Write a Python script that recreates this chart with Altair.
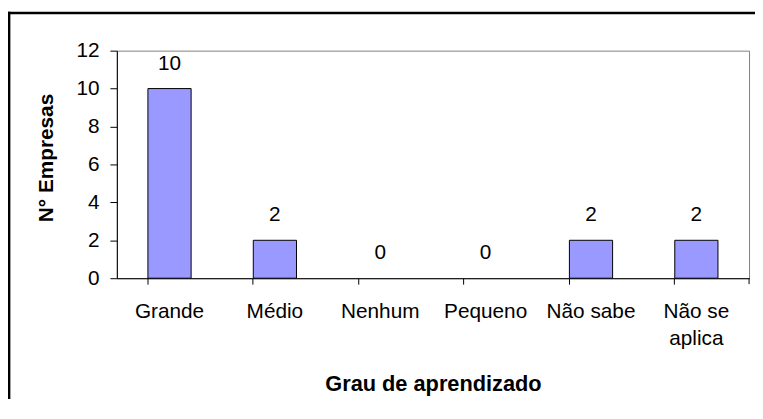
import altair as alt
import pandas as pd

# Data
categorias = ["Grande", "Médio", "Nenhum", "Pequeno", "Não sabe", "Não se aplica"]
empresas = [10, 2, 0, 0, 2, 2]
y_ticks = [0, 2, 4, 6, 8, 10, 12]

df = pd.DataFrame({"Grau": categorias, "N": empresas})

FONT = "Liberation Sans"

x_enc = alt.X(
    "Grau:N",
    sort=categorias,
    scale=alt.Scale(paddingInner=0.59, paddingOuter=0.295),
    axis=alt.Axis(
        title="Grau de aprendizado",
        titleFontSize=22,
        titleFontWeight="bold",
        titleFont=FONT,
        titleColor="black",
        titleBaseline="alphabetic",
        titleY=113,
        labelAngle=0,
        labelFont=FONT,
        labelFontSize=21,
        labelColor="black",
        labelBaseline="alphabetic",
        labelPadding=34,
        labelLineHeight=27,
        labelOverlap=False,
        labelLimit=0,
        labelExpr="datum.label == 'Não se aplica' ? ['Não se', 'aplica'] : datum.label",
        bandPosition=0,
        tickSize=6,
        tickColor="black",
        domainColor="black",
        grid=False,
    ),
)

y_enc = alt.Y(
    "N:Q",
    scale=alt.Scale(domain=[0, 12], nice=False),
    axis=alt.Axis(
        title="N° Empresas",
        titleFontSize=21,
        titleFontWeight="bold",
        titleFont=FONT,
        titleColor="black",
        titleAngle=270,
        titleAlign="center",
        titleBaseline="alphabetic",
        titleX=-65,
        titleY=108,
        values=y_ticks,
        labelFont=FONT,
        labelFontSize=21,
        labelColor="black",
        labelPadding=11,
        tickSize=7,
        tickColor="black",
        domainColor="black",
        grid=False,
    ),
)

base = alt.Chart(df).encode(x=x_enc, y=y_enc)

bars = base.mark_bar(color="#9999FF", stroke="black", strokeWidth=1).transform_filter(
    "datum.N > 0"
)

labels = base.mark_text(
    dy=-19, baseline="alphabetic", fontSize=21, font=FONT, color="black"
).encode(text="N:Q")

# decorative outer chart frame (top and left edges visible in the reference)
one = pd.DataFrame({"f": [0]})
frame_top = alt.Chart(one).mark_rect(color="black").encode(
    x=alt.value(-110), x2=alt.value(645), y=alt.value(-39.2), y2=alt.value(-36.8)
)
frame_left = alt.Chart(one).mark_rect(color="black").encode(
    x=alt.value(-110), x2=alt.value(-107.6), y=alt.value(-39.2), y2=alt.value(352)
)
# closing tick at the right end of the category axis
end_tick = alt.Chart(one).mark_rule(color="black", strokeWidth=1).encode(
    x=alt.value(639), y=alt.value(230), y2=alt.value(236)
)

chart = alt.layer(frame_top, frame_left, bars, labels, end_tick).properties(
    width=639,
    height=230,
    autosize=alt.AutoSizeParams(type="none"),
    padding={"left": 110, "top": 41, "right": 6, "bottom": 122},
    background="white",
).configure_view(stroke="#808080", strokeWidth=1)

chart.save("out.html", embed_options={"renderer": "svg", "actions": False})
